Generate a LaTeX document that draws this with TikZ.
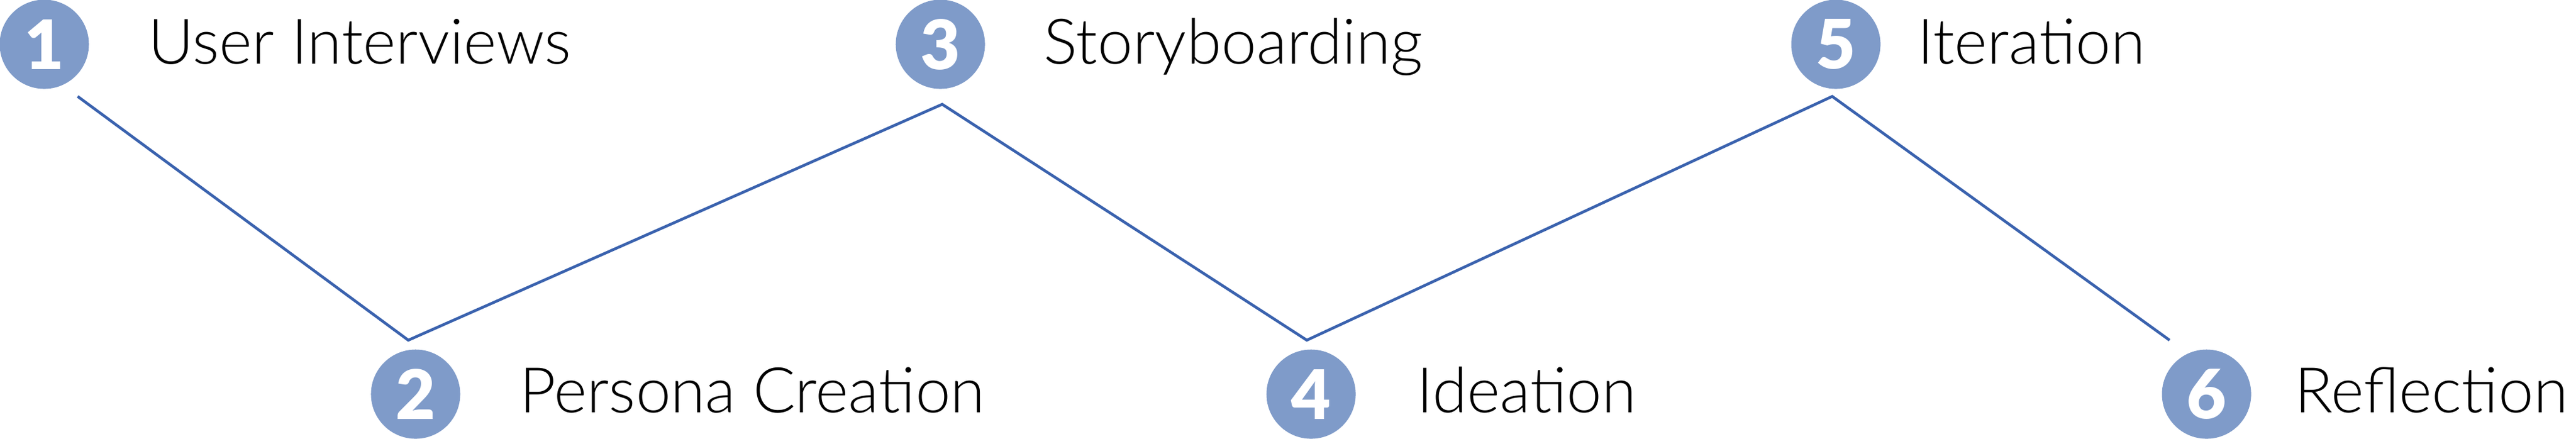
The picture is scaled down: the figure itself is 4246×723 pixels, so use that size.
\documentclass[tikz,border=0pt]{standalone}
\usepackage{fontspec}
\setmainfont{Lato Light}
\newfontfamily\numfont{Lato Black}
\definecolor{stepblue}{HTML}{7F9BC9}
\definecolor{lineblue}{HTML}{3A62AE}

\begin{document}
\begin{tikzpicture}[x=0.01cm,y=-0.01cm,
  num/.style={circle,fill=stepblue,minimum size=1.47cm,inner sep=0pt,text=white,
    font=\numfont\fontsize{32}{32}\selectfont},
  lbl/.style={anchor=base west,inner sep=0pt,font=\fontsize{29.5}{34}\selectfont}]
\useasboundingbox (0,0) rectangle (4246,723);
% numbered steps
\node[num] (n1) at (73,73) {1};
\node[num] (n2) at (685,650) {2};
\node[num] (n3) at (1550,73) {3};
\node[num] (n4) at (2161,650) {4};
\node[num] (n5) at (3026,73) {5};
\node[num] (n6) at (3637,650) {6};
% step names
\node[lbl] (t1) at (244,105) {User Interviews};
\node[lbl] (t2) at (856,680) {Persona Creation};
\node[lbl] (t3) at (1720,105) {Storyboarding};
\node[lbl] (t4) at (2335,680) {Ideation};
\node[lbl] (t5) at (3160,105) {Iteration};
\node[lbl] (t6) at (3782,680) {Reflection};
% zigzag
\coordinate (z1) at (128,159);
\coordinate (z2) at (673,561);
\coordinate (z3) at (1553,172);
\coordinate (z4) at (2154,561);
\coordinate (z5) at (3020,159);
\coordinate (z6) at (3576,561);
\draw [lineblue,line width=1.3pt] (z1) -- (z2) -- (z3) -- (z4) -- (z5) -- (z6);
\end{tikzpicture}
\end{document}
